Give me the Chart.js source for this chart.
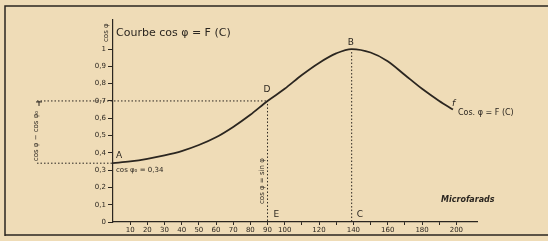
<!DOCTYPE html>
<html>
<head>
<meta charset="utf-8">
<script src="https://cdn.jsdelivr.net/npm/chart.js@4"></script>
<style>
  body { margin: 0; background: #efdcb7; }
  #wrap { width: 548px; height: 241px; position: relative; }
</style>
</head>
<body>
<div id="wrap"><canvas id="cosChart"></canvas></div>
<script>
// capacity in microfarads and the power factor
const capacities = [0, 10, 20, 30, 40, 50, 60, 70, 80, 90, 100, 110, 120, 130, 139, 150, 160, 170, 180, 190, 198];
const cosPhi = [0.34, 0.35, 0.365, 0.385, 0.41, 0.445, 0.49, 0.55, 0.62, 0.7, 0.77, 0.85, 0.92, 0.975, 1.0, 0.98, 0.93, 0.85, 0.77, 0.7, 0.65];
const yTicks = [0, 0.1, 0.2, 0.3, 0.4, 0.5, 0.6, 0.7, 0.8, 0.9, 1];
const xTicks = [10, 20, 30, 40, 50, 60, 70, 80, 90, 100, 110, 120, 130, 140, 150, 160, 170, 180, 190, 200];
const xTickLabels = [10, 20, 30, 40, 50, 60, 70, 80, 90, 100, 120, 140, 160, 180, 200];
const cosPhi0 = 0.34;
const pointD = [90, 0.7];
const pointB = [139, 1.0];

const INK = "#2b2620";

function dotted(ctx, x1, y1, x2, y2) {
  ctx.save();
  ctx.strokeStyle = INK;
  ctx.lineWidth = 1;
  ctx.setLineDash([1.5, 2]);
  ctx.beginPath();
  ctx.moveTo(x1, y1);
  ctx.lineTo(x2, y2);
  ctx.stroke();
  ctx.restore();
}

function text(ctx, str, x, y, font, rot) {
  ctx.save();
  ctx.fillStyle = INK;
  ctx.font = font;
  ctx.textBaseline = "middle";
  ctx.translate(x, y);
  if (rot) ctx.rotate(rot);
  ctx.fillText(str, 0, 0);
  ctx.restore();
}

const notes = {
  id: "notes",
  beforeDraw(chart) {
    let ctx = chart.ctx;
    ctx.save();
    ctx.strokeStyle = INK;
    ctx.lineWidth = 1.5;
    ctx.beginPath();
    ctx.moveTo(5, 236);
    ctx.lineTo(5, 6);
    ctx.lineTo(548, 6);
    ctx.moveTo(5, 235);
    ctx.lineTo(548, 235);
    ctx.stroke();
    ctx.restore();
  },
  afterDatasetsDraw(chart) {
    let ctx = chart.ctx;
    let x = chart.scales.x;
    let y = chart.scales.y;
    let x0 = x.getPixelForValue(0);
    let y0 = y.getPixelForValue(0);
    let yA = y.getPixelForValue(cosPhi0);
    let xD = x.getPixelForValue(pointD[0]);
    let yD = y.getPixelForValue(pointD[1]);
    let xB = x.getPixelForValue(pointB[0]);
    let yB = y.getPixelForValue(pointB[1]);

    // left bracket cos φ - cos φ0
    dotted(ctx, 37, yA, x0, yA);
    dotted(ctx, 37, yD, xD, yD);
    ctx.save();
    ctx.strokeStyle = INK;
    ctx.lineWidth = 1;
    ctx.beginPath();
    ctx.moveTo(39, yD);
    ctx.lineTo(39, yD + 5);
    ctx.moveTo(36, yD + 1);
    ctx.lineTo(42, yD + 1);
    ctx.stroke();
    ctx.restore();
    text(ctx, "cos φ − cos φ₀", 36, yA - 2, "7px 'DejaVu Sans'", -Math.PI / 2);

    // vertical dotted lines D-E and B-C
    dotted(ctx, xD, yD + 3, xD, y0);
    dotted(ctx, xB, yB + 3, xB, y0);

    text(ctx, "Courbe cos φ = F (C)", x0 + 3, 33, "11px 'DejaVu Sans'");
    text(ctx, "cos φ", 106, 42, "7px 'DejaVu Sans'", -Math.PI / 2);
    text(ctx, "A", x0 + 3, yA - 8, "9px 'DejaVu Sans'");
    text(ctx, "cos φ₀ = 0,34", x0 + 3, yA + 7, "7px 'DejaVu Sans'");
    text(ctx, "D", xD - 4, yD - 11, "9px 'DejaVu Sans'");
    text(ctx, "B", xB - 4, yB - 6, "9px 'DejaVu Sans'");
    text(ctx, "E", xD + 6, y0 - 7, "9px 'DejaVu Sans'");
    text(ctx, "C", xB + 5, y0 - 7, "9px 'DejaVu Sans'");
    text(ctx, "cos φ = sin φ", xD - 5, y0 - 18, "7px 'DejaVu Sans'", -Math.PI / 2);
    let xf = x.getPixelForValue(capacities[capacities.length - 1]);
    let yf = y.getPixelForValue(cosPhi[cosPhi.length - 1]);
    text(ctx, "f", xf - 1, yf - 6, "italic 9px 'DejaVu Sans'");
    text(ctx, "Cos. φ = F (C)", xf + 5, yf + 3, "8px 'DejaVu Sans'");
    text(ctx, "Microfarads", 441, 200, "italic bold 8px 'DejaVu Sans'");
  },
};

function renderChart() {
  let ctx = document.getElementById("cosChart");
  Chart.defaults.font.family = "'DejaVu Sans', sans-serif";
  Chart.defaults.font.size = 7;
  Chart.defaults.color = INK;

  return new Chart(ctx, {
    type: "line",
    data: {
      datasets: [
        {
          data: capacities.map((c, i) => ({ x: c, y: cosPhi[i] })),
          borderColor: INK,
          borderWidth: 1.8,
          pointRadius: 0,
          cubicInterpolationMode: "monotone",
          fill: false,
        },
      ],
    },
    options: {
      responsive: true,
      maintainAspectRatio: false,
      animation: false,
      layout: { padding: { top: 20, right: 71, left: 0, bottom: 0 } },
      scales: {
        x: {
          type: "linear",
          min: 0,
          max: 212,
          afterBuildTicks: (s) => { s.ticks = xTicks.map((v) => ({ value: v })); },
          afterFit: (s) => { s.height = 19; },
          grid: { drawOnChartArea: false, color: INK, tickLength: 3 },
          border: { color: INK, width: 1.2 },
          ticks: {
            padding: 1,
            maxRotation: 0,
            autoSkip: false,
            callback: (v) => (xTickLabels.includes(v) ? String(v) : ""),
          },
        },
        y: {
          min: 0,
          max: 1.168,
          afterBuildTicks: (s) => { s.ticks = yTicks.map((v) => ({ value: v })); },
          afterFit: (s) => { s.width = 113; },
          grid: { drawOnChartArea: false, color: INK, tickLength: 5 },
          border: { color: INK, width: 1.2 },
          ticks: {
            padding: 2,
            autoSkip: false,
            callback: (v) => (v === 0 || v === 1 ? String(v) : v.toFixed(1).replace(".", ",")),
          },
        },
      },
      plugins: { legend: { display: false }, tooltip: { enabled: false } },
    },
    plugins: [notes],
  });
}

renderChart();
</script>
</body>
</html>
